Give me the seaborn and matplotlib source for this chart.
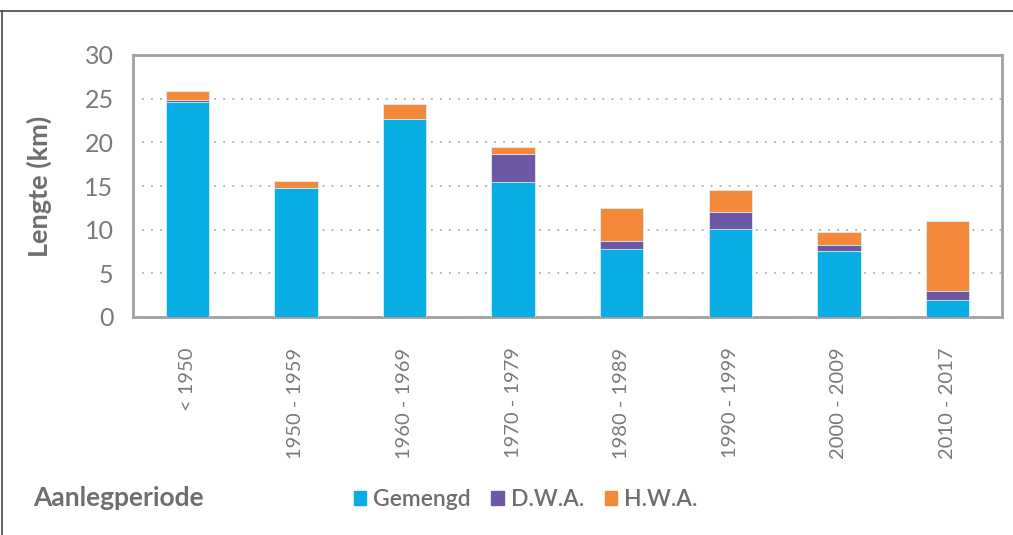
import numpy as np
import pandas as pd
import matplotlib
matplotlib.use("Agg")
import matplotlib.pyplot as plt
import seaborn as sns
from matplotlib.lines import Line2D
from matplotlib.patches import Patch

# data (lengte in km per aanlegperiode)
periods = ["< 1950", "1950 - 1959", "1960 - 1969", "1970 - 1979",
           "1980 - 1989", "1990 - 1999", "2000 - 2009", "2010 - 2017"]
gemengd = [24.6, 14.8, 22.7, 15.5, 7.8, 10.1, 7.55, 1.9]
dwa = [0.25, 0.0, 0.0, 3.2, 0.85, 1.95, 0.65, 1.05]
hwa = [1.05, 0.8, 1.7, 0.8, 3.8, 2.5, 1.5, 8.05]

df = pd.DataFrame({"periode": periods, "Gemengd": gemengd, "D.W.A.": dwa, "H.W.A.": hwa})
df["gd"] = df["Gemengd"] + df["D.W.A."]
df["totaal"] = df["gd"] + df["H.W.A."]

c_blue = "#07ADE3"
c_purple = "#6C58A5"
c_orange = "#F5893A"
grey_txt = "#7a7a7a"
grey_bold = "#6e6e6e"

sns.set_style("white")
plt.rcParams["font.family"] = ["Lato", "DejaVu Sans"]

fig = plt.figure(figsize=(10.13, 5.35), dpi=100)
ax = fig.add_axes([133 / 1013, 1 - 317 / 535, 868.7 / 1013, 262 / 535])

# stacked bars: draw cumulative totals from top to bottom
edge = dict(edgecolor="#d8f0fa", linewidth=0.6, width=0.4, zorder=3, saturation=1)
sns.barplot(data=df, x="periode", y="totaal", color=c_orange, ax=ax, **edge)
sns.barplot(data=df, x="periode", y="gd", color=c_purple, ax=ax, **edge)
sns.barplot(data=df, x="periode", y="Gemengd", color=c_blue, ax=ax, **edge)

ax.set_ylim(0, 30)
ax.set_xlim(-0.5, 7.5)
ax.set_yticks(range(0, 31, 5))
ax.yaxis.grid(True, linestyle=(0, (1, 4)), linewidth=1.3, color="#b0b0b0", zorder=0)
ax.set_axisbelow(True)

for s in ax.spines.values():
    s.set_visible(True)
    s.set_color("#a0a0a0")
    s.set_linewidth(2)

ax.tick_params(axis="y", length=0, pad=14, labelsize=18, labelcolor=grey_txt)
ax.tick_params(axis="x", length=0, pad=22, labelsize=14.5, labelcolor=grey_txt)
plt.setp(ax.get_xticklabels(), rotation=90)

ax.set_xlabel("")
ax.set_ylabel("Lengte (km)", fontsize=19.5, fontweight="bold", color=grey_bold)
ax.yaxis.set_label_coords(-0.093, 0.5)

fig.text(33 / 1013, 1 - 498 / 535, "Aanlegperiode", fontsize=19,
         fontweight="bold", color=grey_bold, va="center", ha="left")

handles = [Patch(color=c_blue, label="Gemengd"),
           Patch(color=c_purple, label="D.W.A."),
           Patch(color=c_orange, label="H.W.A.")]
leg = fig.legend(handles=handles, loc="center left", bbox_to_anchor=(333 / 1013, 1 - 500 / 535),
                 ncol=3, frameon=False, fontsize=16.5, handlelength=0.55, handleheight=0.55,
                 handletextpad=0.3, columnspacing=0.9)
for t in leg.get_texts():
    t.set_color(grey_bold)
    t.set_fontweight("semibold")

# outer border (top and left only)
fig.add_artist(Line2D([0, 1], [1 - 10.5 / 535] * 2, color="#444444", linewidth=1.2))
fig.add_artist(Line2D([1.5 / 1013] * 2, [0, 1 - 10.5 / 535], color="#444444", linewidth=1.2))

fig.savefig("out.png", dpi=100)
